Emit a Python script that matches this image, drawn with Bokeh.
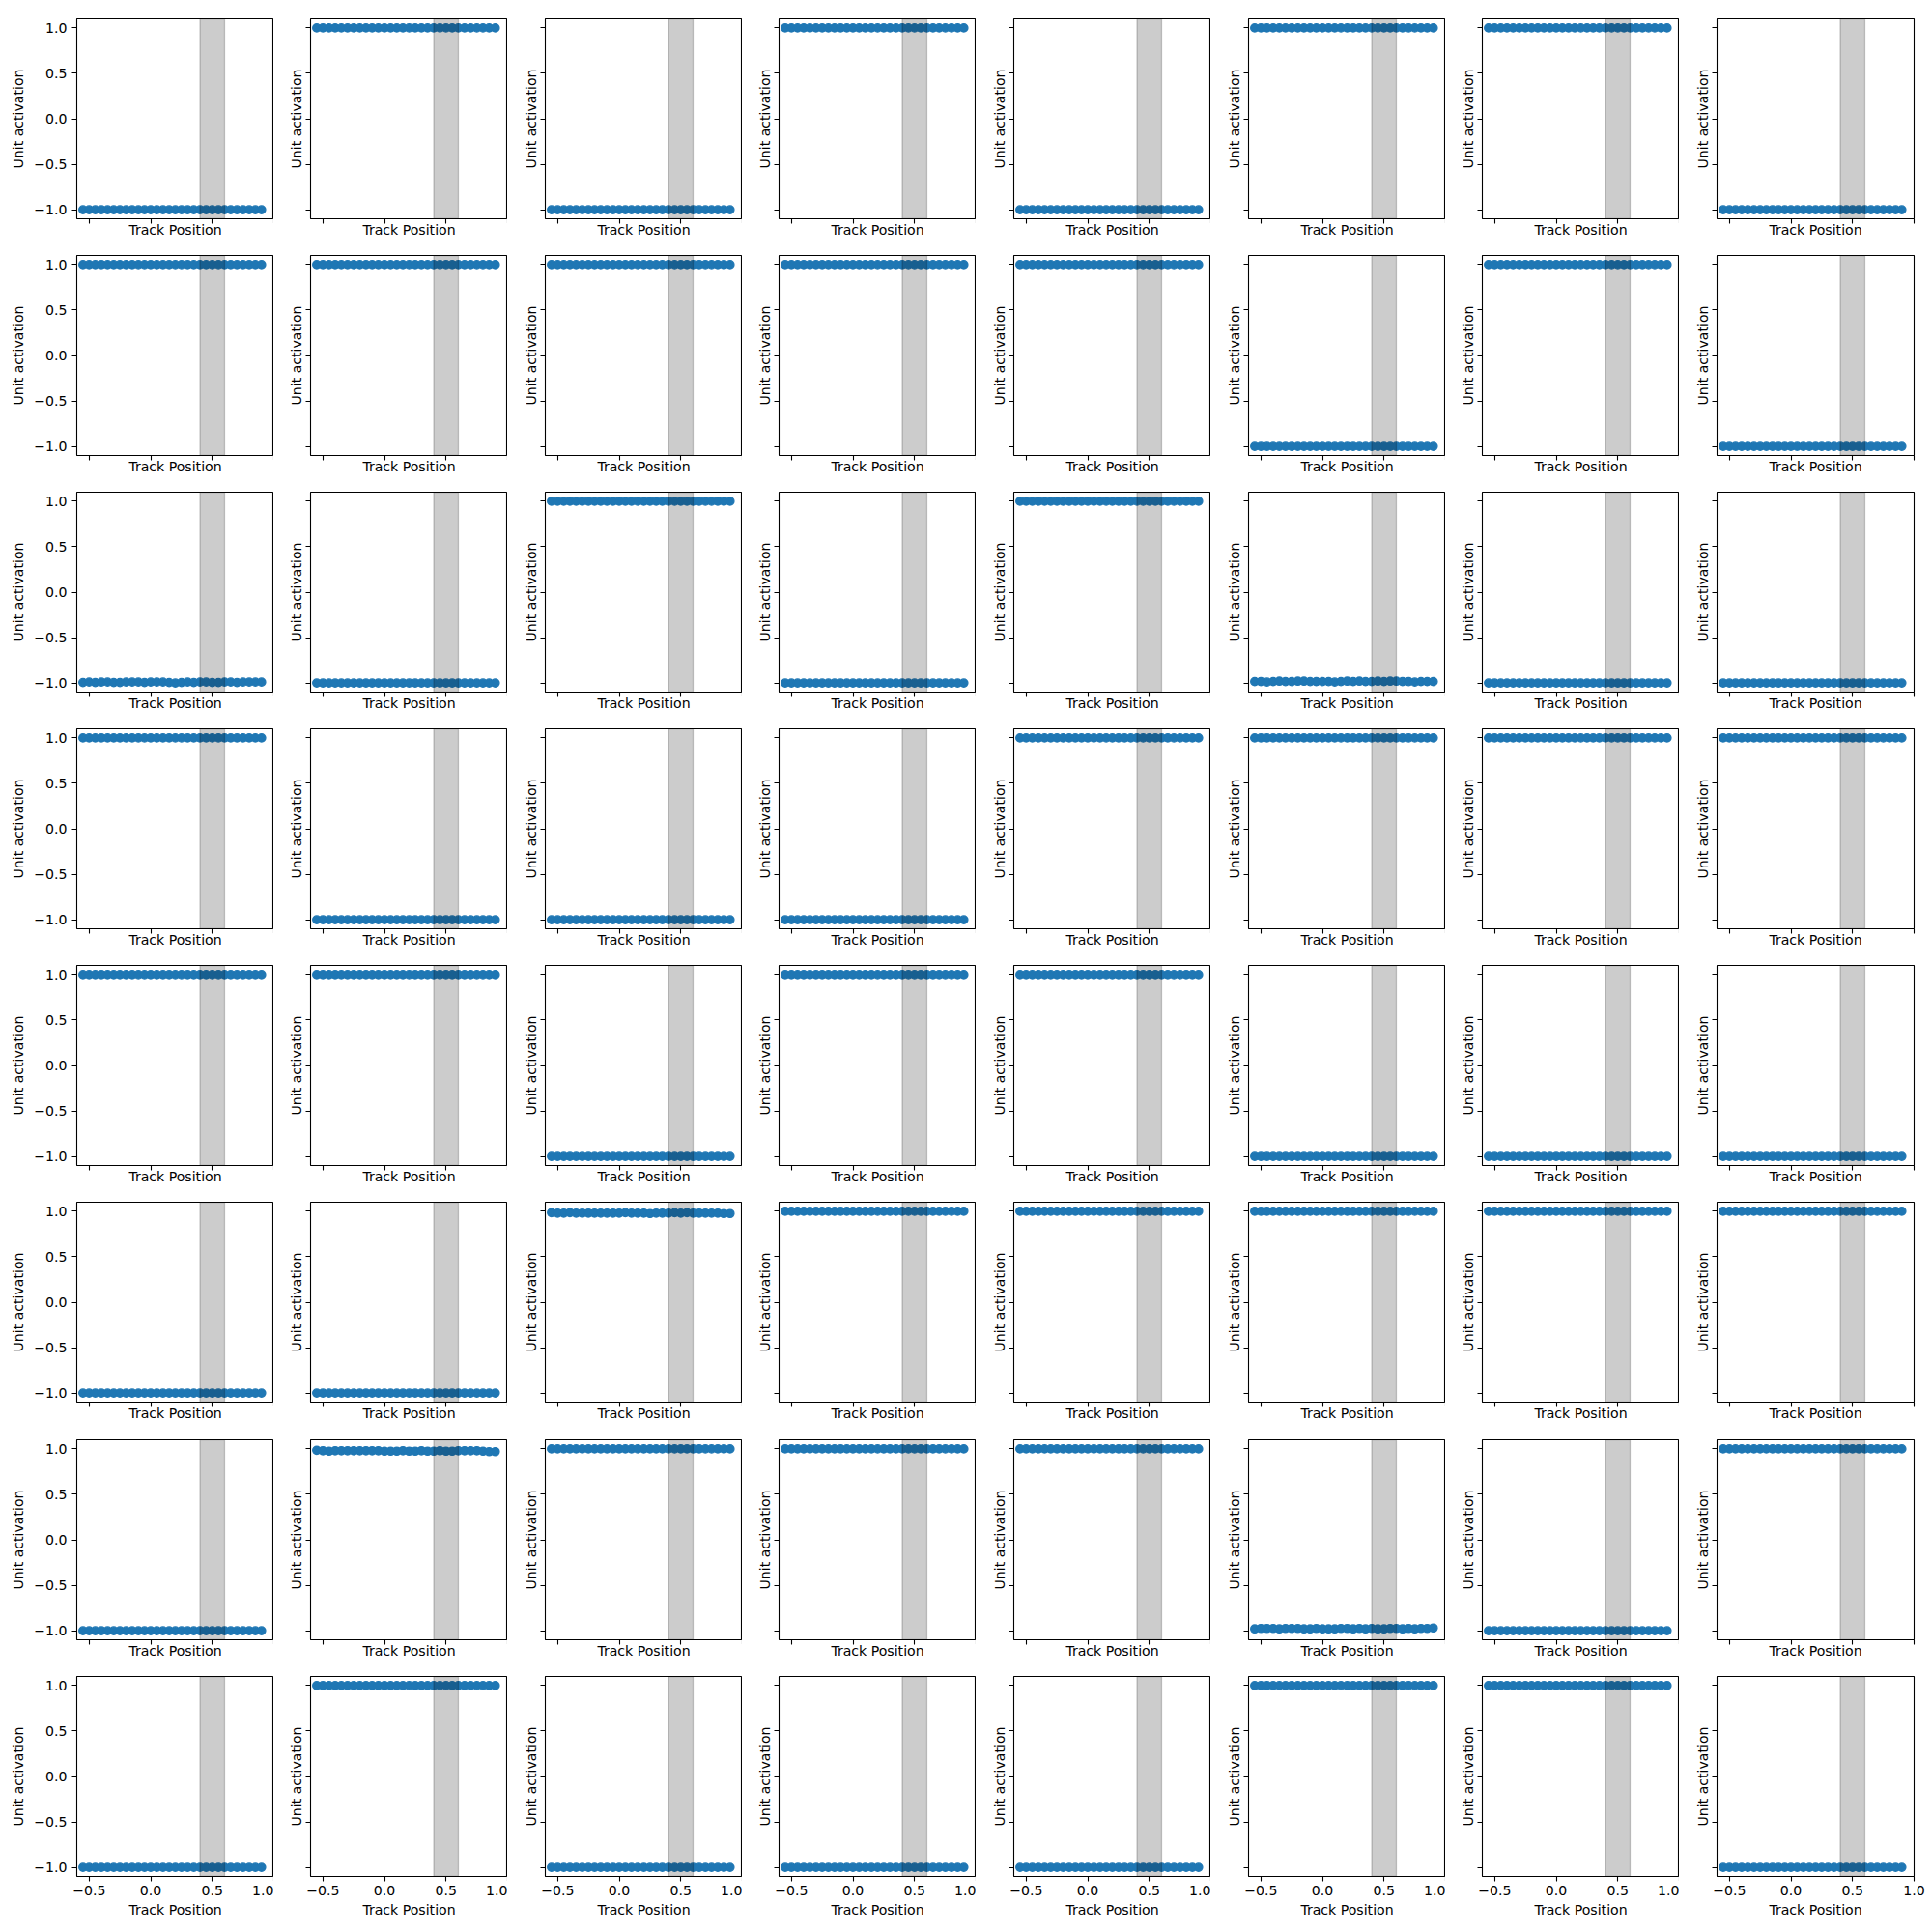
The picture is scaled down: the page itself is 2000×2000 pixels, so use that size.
from bokeh.plotting import figure
from bokeh.layouts import column, row
from bokeh.models import Range1d, FixedTicker, BoxAnnotation, ColumnDataSource
from bokeh.embed import file_html
from bokeh.resources import INLINE

# ---------------- data ----------------
track_position = [-0.55, -0.50, -0.45, -0.40, -0.35, -0.30, -0.25, -0.20, -0.15, -0.10,
                  -0.05, 0.00, 0.05, 0.10, 0.15, 0.20, 0.25, 0.30, 0.35, 0.40,
                  0.45, 0.50, 0.55, 0.60, 0.65, 0.70, 0.75, 0.80, 0.85, 0.90]

# activation level of each unit (row-major, 8 x 8 grid)
unit_levels = [
    -1, 1, -1, 1, -1, 1, 1, -1,
    1, 1, 1, 1, 1, -1, 1, -1,
    -1, -1, 1, -1, 1, -1, -1, -1,
    1, -1, -1, -1, 1, 1, 1, 1,
    1, 1, -1, 1, 1, -1, -1, -1,
    -1, -1, 1, 1, 1, 1, 1, 1,
    -1, 1, 1, 1, 1, -1, -1, 1,
    -1, 1, -1, -1, -1, 1, 1, -1,
]

# units whose activation is not perfectly saturated (index -> values)
unit16 = [-0.995, -0.99, -0.995, -0.99, -0.99, -0.995, -0.995, -0.99, -0.99, -0.99,
          -0.995, -0.99, -0.99, -0.99, -0.995, -1.0, -0.995, -0.99, -0.995, -0.99,
          -0.99, -0.995, -0.995, -0.99, -0.99, -0.995, -0.99, -0.99, -0.99, -0.99]
unit21 = [-0.985, -0.985, -0.99, -0.985, -0.98, -0.985, -0.985, -0.98, -0.98, -0.985,
          -0.985, -0.985, -0.985, -0.99, -0.985, -0.98, -0.985, -0.98, -0.985, -0.985,
          -0.98, -0.985, -0.98, -0.98, -0.985, -0.985, -0.99, -0.985, -0.985, -0.985]
unit42 = [0.985, 0.98, 0.98, 0.985, 0.98, 0.98, 0.98, 0.98, 0.98, 0.98,
          0.98, 0.98, 0.985, 0.98, 0.98, 0.98, 0.975, 0.98, 0.98, 0.98,
          0.985, 0.98, 0.985, 0.98, 0.98, 0.98, 0.98, 0.98, 0.975, 0.975]
unit49 = [0.985, 0.98, 0.975, 0.98, 0.98, 0.98, 0.98, 0.98, 0.98, 0.98,
          0.98, 0.975, 0.975, 0.975, 0.98, 0.975, 0.975, 0.98, 0.975, 0.975,
          0.98, 0.975, 0.975, 0.98, 0.98, 0.98, 0.98, 0.975, 0.97, 0.97]
unit53 = [-0.98, -0.975, -0.975, -0.975, -0.98, -0.975, -0.975, -0.975, -0.98, -0.98,
          -0.975, -0.98, -0.98, -0.98, -0.975, -0.975, -0.98, -0.975, -0.98, -0.975,
          -0.98, -0.98, -0.975, -0.975, -0.98, -0.975, -0.98, -0.975, -0.975, -0.97]
special_units = {16: unit16, 21: unit21, 42: unit42, 49: unit49, 53: unit53}

x_ticks = [-0.5, 0.0, 0.5, 1.0]
x_tick_labels = ["\u22120.5", "0.0", "0.5", "1.0"]
y_ticks = [-1.0, -0.5, 0.0, 0.5, 1.0]
y_tick_labels = ["\u22121.0", "\u22120.5", "0.0", "0.5", "1.0"]
band_start, band_end = 0.4, 0.6

# ---------------- layout ----------------
NR, NC = 8, 8
FW, FH = 204, 207
lefts = [round(78.7 + k * 242.6) for k in range(NC)]
tops = [round(19 + k * 245.1) for k in range(NR)]
FONT = "DejaVu Sans"
FS = "14.1px"

rows = []
for r in range(NR):
    figs = []
    for c in range(NC):
        idx = r * NC + c
        if idx in special_units:
            yv = special_units[idx]
        else:
            yv = [float(unit_levels[idx])] * len(track_position)

        bl = lefts[0] if c == 0 else lefts[c] - (lefts[c - 1] + FW)
        br = (2000 - (lefts[c] + FW)) if c == NC - 1 else 0
        bt = tops[0] if r == 0 else 1
        bb = (2000 - (tops[r] + FH)) if r == NR - 1 else tops[r + 1] - (tops[r] + FH) - 1

        p = figure(frame_width=FW, frame_height=FH, output_backend="svg",
                   toolbar_location=None, tools="",
                   x_range=Range1d(-0.6, 1.0), y_range=Range1d(-1.1, 1.1),
                   min_border_left=bl, min_border_right=br,
                   min_border_top=bt, min_border_bottom=bb)
        p.background_fill_color = "white"
        p.border_fill_color = "white"
        p.outline_line_color = "black"
        p.outline_line_width = 1.1
        p.outline_line_alpha = 1.0
        p.grid.visible = False

        src = ColumnDataSource(dict(x=track_position, y=yv))
        p.scatter("x", "y", source=src, size=8.4, fill_color="#1f77b4",
                  line_color="#1f77b4", line_width=1.3)
        p.add_layout(BoxAnnotation(left=band_start, right=band_end,
                                   fill_color="black", fill_alpha=0.2,
                                   line_color="black", line_alpha=0.2, line_width=1.3))

        for ax, ticks, labels, show in ((p.xaxis[0], x_ticks, x_tick_labels, r == NR - 1),
                                        (p.yaxis[0], y_ticks, y_tick_labels, c == 0)):
            ax.ticker = FixedTicker(ticks=ticks)
            ax.minor_tick_line_color = None
            ax.major_tick_in = 0
            ax.major_tick_out = 5
            ax.major_tick_line_width = 1.1
            ax.major_tick_line_color = "black"
            ax.axis_line_color = None
            ax.axis_label_text_font = FONT
            ax.axis_label_text_font_size = FS
            ax.axis_label_text_font_style = "normal"
            ax.axis_label_text_color = "black"
            if show:
                ax.major_label_overrides = {t: l for t, l in zip(ticks, labels)}
                ax.major_label_text_font = FONT
                ax.major_label_text_font_size = FS
                ax.major_label_text_color = "black"
            else:
                ax.major_label_overrides = {t: "" for t in ticks}
                ax.major_label_text_font_size = "0px"
                ax.major_label_standoff = 0
        p.xaxis.axis_label = "Track Position"
        p.yaxis.axis_label = "Unit activation"
        if r == NR - 1:
            p.xaxis.major_label_standoff = 4
            p.xaxis.axis_label_standoff = 4
        else:
            p.xaxis.axis_label_standoff = -2
        if c == 0:
            p.yaxis.major_label_standoff = 5
            p.yaxis.axis_label_standoff = 5
        else:
            p.yaxis.axis_label_standoff = 2
        figs.append(p)
    rows.append(row(*figs, spacing=0))

layout = column(*rows, spacing=0)
open("out.html", "w").write(file_html(layout, INLINE))
